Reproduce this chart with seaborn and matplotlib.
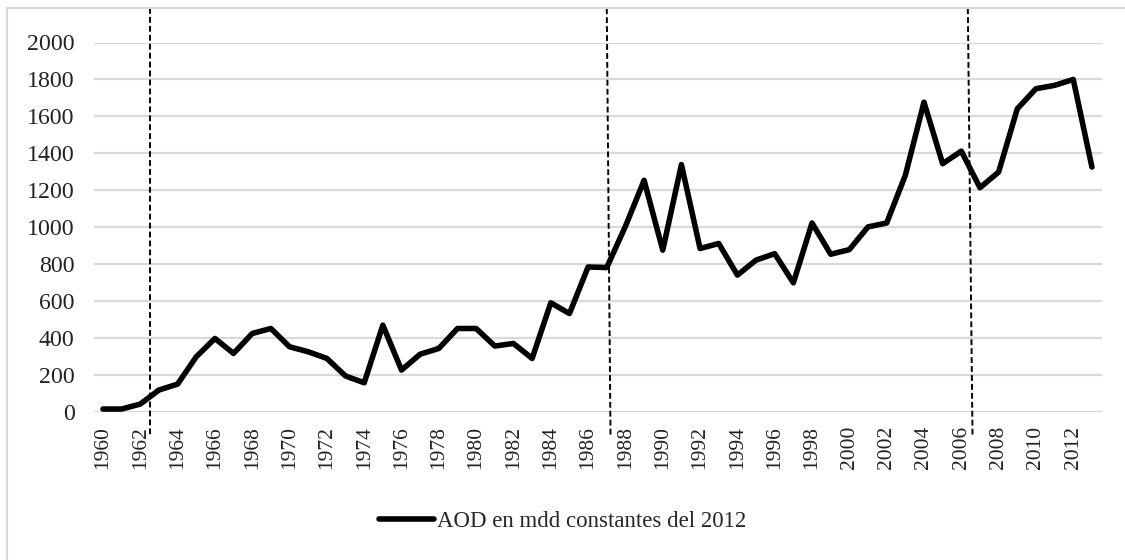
import matplotlib
matplotlib.use("Agg")

import numpy as np
import pandas as pd

import matplotlib.pyplot as plt
import seaborn as sns
from matplotlib.patches import Rectangle


# Data


years = list(range(1960, 2014))

aod = [
    16, 16, 43, 119, 151, 299, 398, 317, 425, 452,
    353, 326, 290, 195, 158, 470, 227, 313, 344, 452,
    452, 357, 371, 290, 591, 533, 785, 782, 1005, 1254,
    876, 1339, 885, 912, 741, 822, 857, 699, 1023, 854,
    879, 1002, 1023, 1281, 1677, 1344, 1412, 1214, 1299, 1641,
    1750, 1768, 1800, 1326
]

series_label = "AOD en mdd constantes del 2012"

y_ticks = list(range(0, 2001, 200))

x_ticks = list(range(1960, 2013, 2))

# dashed period separators (top x, bottom x)
period_breaks = [
    (1962.5, 1962.5),
    (1987.0, 1987.2),
    (2006.35, 2006.6)
]

df = pd.DataFrame({
    "year": years,
    "aod": aod
})


# Figure


sns.set_theme(style="white")

plt.rcParams["font.family"] = ["Liberation Serif", "DejaVu Serif"]

fig = plt.figure(figsize=(11.25, 5.6), dpi=100)

ax = fig.add_axes([94 / 1125, 1 - 412 / 560, (1102 - 94) / 1125, (412 - 42.5) / 560])

ax.set_axisbelow(True)

for v in y_ticks:
    ax.axhline(v, color="#d9d9d9", linewidth=1.6, zorder=0)

sns.lineplot(
    data=df,
    x="year",
    y="aod",
    color="black",
    linewidth=4,
    label=series_label,
    ax=ax,
    legend=False
)

# period separators
for x_top, x_bot in period_breaks:
    ax.plot(
        [x_top, x_bot],
        [2185, -125],
        color="black",
        linestyle=(0, (3, 1.6)),
        linewidth=1.4,
        clip_on=False,
        zorder=5
    )

ax.set_xlim(1959.52, 2013.54)
ax.set_ylim(0, 2000)

ax.set_yticks(y_ticks)
ax.set_yticklabels([str(v) for v in y_ticks], fontsize=17.2, color="#222222")

ax.set_xticks(x_ticks)
ax.set_xticklabels([str(v) for v in x_ticks], rotation=90, fontsize=15.5, color="#222222")

ax.tick_params(axis="y", length=0, pad=14)
ax.tick_params(axis="x", length=0, pad=10)

ax.set_xlabel("")
ax.set_ylabel("")

for side in ["top", "right", "left", "bottom"]:
    ax.spines[side].set_visible(False)

# Legend
handles, labels = ax.get_legend_handles_labels()

fig.legend(
    handles,
    labels,
    loc="center",
    bbox_to_anchor=(0.5, 1 - 521 / 560),
    frameon=False,
    fontsize=16.5,
    handlelength=2.4,
    handletextpad=0.15
)

# chart border
fig.patches.append(
    Rectangle(
        (7 / 1125, -0.1),
        1.2,
        1 - 8 / 560 + 0.1,
        transform=fig.transFigure,
        fill=False,
        edgecolor="#d9d9d9",
        linewidth=1.5
    )
)

fig.savefig("out.png", dpi=100)
